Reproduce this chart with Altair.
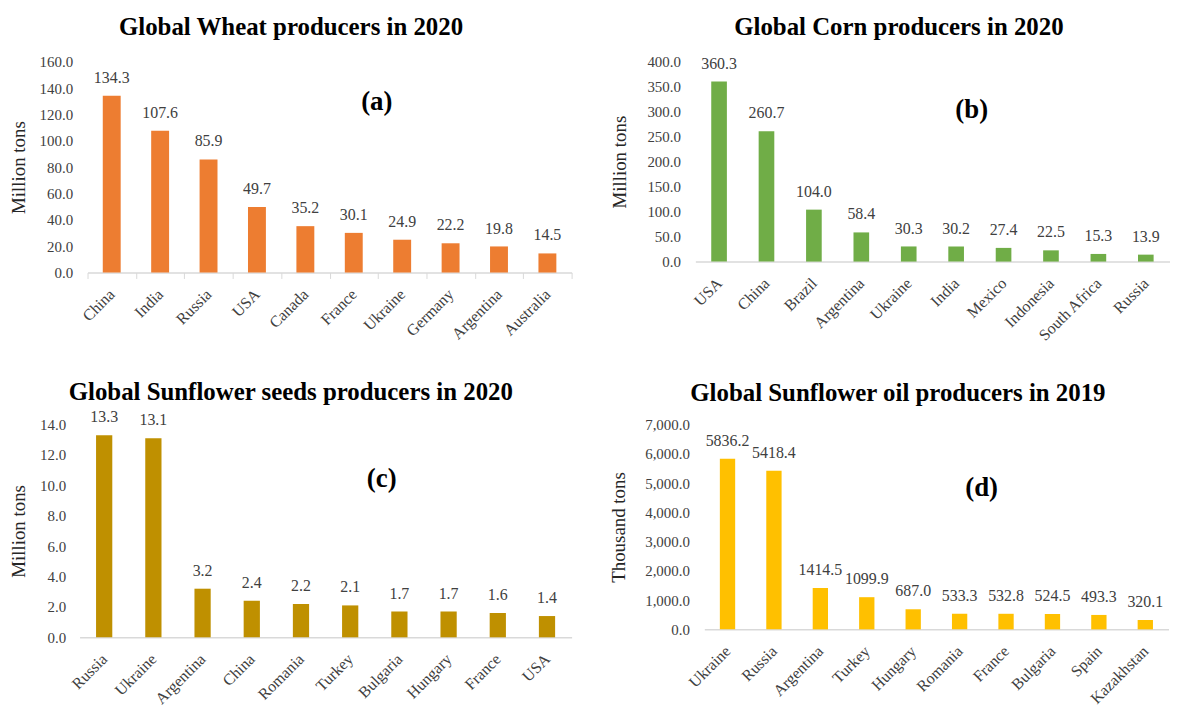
import altair as alt
import pandas as pd

FONT = "Liberation Serif"

wheat_countries = ["China", "India", "Russia", "USA", "Canada", "France", "Ukraine", "Germany", "Argentina", "Australia"]
wheat_values = [134.3, 107.6, 85.9, 49.7, 35.2, 30.1, 24.9, 22.2, 19.8, 14.5]

corn_countries = ["USA", "China", "Brazil", "Argentina", "Ukraine", "India", "Mexico", "Indonesia", "South Africa", "Russia"]
corn_values = [360.3, 260.7, 104.0, 58.4, 30.3, 30.2, 27.4, 22.5, 15.3, 13.9]

seed_countries = ["Russia", "Ukraine", "Argentina", "China", "Romania", "Turkey", "Bulgaria", "Hungary", "France", "USA"]
seed_values = [13.3, 13.1, 3.2, 2.4, 2.2, 2.1, 1.7, 1.7, 1.6, 1.4]

oil_countries = ["Ukraine", "Russia", "Argentina", "Turkey", "Hungary", "Romania", "France", "Bulgaria", "Spain", "Kazakhstan"]
oil_values = [5836.2, 5418.4, 1414.5, 1099.9, 687.0, 533.3, 532.8, 524.5, 493.3, 320.1]


def panel(countries, values, color, title, ytitle, ymax, ystep, tickfmt,
          letter, letter_x, letter_y, width, height, band, xticks, title_offset,
          ylabel_pad, y_extent, x_start=0, title_dx=0):
    df = pd.DataFrame({"country": countries, "value": values})
    base = alt.Chart(df)
    xscale = alt.Scale(paddingInner=0, paddingOuter=0, range=[x_start, width])
    x = alt.X(
        "country:N", sort=countries, scale=xscale,
        axis=alt.Axis(
            title=None, labelAngle=-45, labelAlign="right", labelBaseline="middle",
            labelPadding=13 if xticks else 19, labelFont=FONT, labelFontSize=16,
            labelColor="#404040", domainColor="#d9d9d9", domainWidth=1.5,
            ticks=xticks, tickColor="#d9d9d9", tickSize=6 if xticks else 0,
            tickBand="extent",
        ),
    )
    y = alt.Y(
        "value:Q",
        scale=alt.Scale(domain=[0, ymax], nice=False),
        axis=alt.Axis(
            title=ytitle, values=list(range(0, ymax + 1, ystep)), format=tickfmt,
            grid=False, domain=False, ticks=False, tickSize=0, labelPadding=ylabel_pad,
            labelFont=FONT, labelFontSize=15, labelColor="#404040",
            titleFont=FONT, titleFontSize=19, titleFontWeight="normal",
            titleColor="#262626", titlePadding=0,
            minExtent=y_extent, maxExtent=y_extent,
        ),
    )
    bars = base.mark_bar(color=color, width=alt.RelativeBandSize(band)).encode(x=x, y=y)
    labels = base.mark_text(
        dy=-13, baseline="alphabetic", fontSize=16, font=FONT, color="#404040"
    ).encode(x=x, y=y, text=alt.Text("value:Q", format=".1f"))
    ldf = pd.DataFrame({"t": [letter]})
    lt = alt.Chart(ldf).mark_text(
        font=FONT, fontSize=27, fontWeight="bold", color="#000000", baseline="middle"
    ).encode(text="t:N", x=alt.value(letter_x), y=alt.value(letter_y))
    return alt.layer(bars, labels, lt).properties(
        width=width, height=height,
        title=alt.TitleParams(title, font=FONT, fontSize=25, fontWeight="bold",
                              color="#000000", anchor="middle", frame="bounds",
                              offset=title_offset, dx=title_dx),
    )


a = panel(wheat_countries, wheat_values, "#ED7D31", "Global Wheat producers in 2020",
          "Million tons", 160, 20, ".1f", "(a)", 299, 40, 495, 212, 0.37, True, 15,
          7, 51, x_start=8)
b = panel(corn_countries, corn_values, "#70AD47", "Global Corn producers in 2020",
          "Million tons", 400, 50, ".1f", "(b)", 278, 49, 477, 201, 0.33, False, 15,
          15, 66.5, title_dx=9)
c = panel(seed_countries, seed_values, "#BF9000", "Global Sunflower seeds producers in 2020",
          "Million tons", 14, 2, ".1f", "(c)", 304, 55, 495, 214, 0.33, False, 4.5,
          14, 51)
d = panel(oil_countries, oil_values, "#FFC000", "Global Sunflower oil producers in 2019",
          "Thousand tons", 7000, 1000, ",.1f", "(d)", 279, 64, 467, 206, 0.33, False, 11.5,
          15, 76.5, title_dx=9)

row1 = alt.hconcat(a, b, spacing=37.5)
row2 = alt.hconcat(c, d, spacing=37.5)
chart = alt.vconcat(row1, row2, spacing=36).properties(
    padding={"left": 2, "top": 5, "right": 0, "bottom": 0}
).configure_view(stroke=None)

chart.save("out.html", embed_options={"renderer": "svg", "actions": False})
